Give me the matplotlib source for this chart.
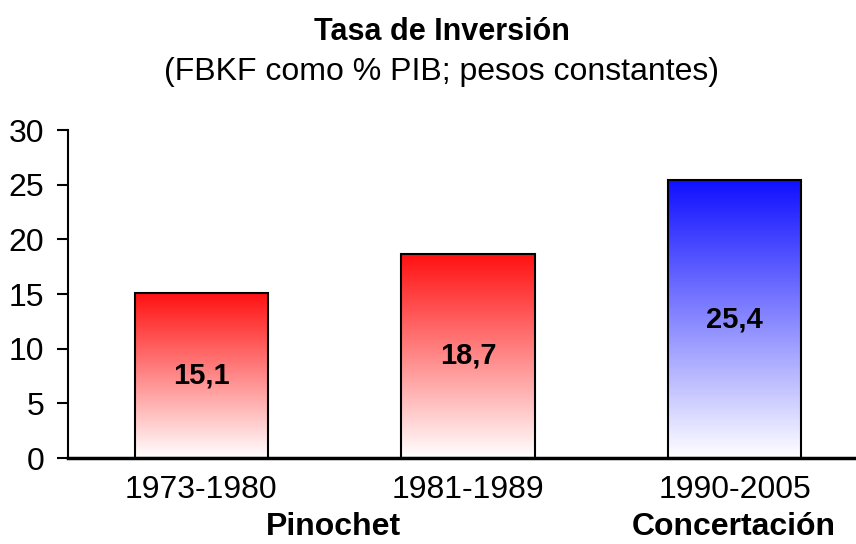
import numpy as np
import matplotlib
matplotlib.use("Agg")
import matplotlib.pyplot as plt
from matplotlib.colors import LinearSegmentedColormap

plt.rcParams['font.family'] = ['Liberation Sans', 'DejaVu Sans']

periods = ['1973-1980', '1981-1989', '1990-2005']
values = [15.1, 18.7, 25.4]
labels = ['15,1', '18,7', '25,4']
top_colors = ['#ff1010', '#ff1010', '#1010ff']
groups = ['Pinochet', 'Concertación']

fig = plt.figure(figsize=(8.56, 5.44), dpi=100)
ax = fig.add_axes([68 / 856, 86 / 544, 1 - 68 / 856, 328 / 544])

x = np.arange(len(values))
width = 0.5
grad = np.linspace(0, 1, 256).reshape(-1, 1)

for xi, v, c, lab in zip(x, values, top_colors, labels):
    cmap = LinearSegmentedColormap.from_list('g', ['white', c])
    ax.imshow(grad, cmap=cmap, aspect='auto', origin='lower',
              extent=[xi - width / 2, xi + width / 2, 0, v], zorder=1)
    ax.bar(xi, v, width=width, facecolor='none', edgecolor='black', linewidth=1.5, zorder=2)
    ax.text(xi, v / 2, lab, ha='center', va='center', fontsize=21, fontweight='bold', zorder=3)

ax.set_xlim(-0.5, 2.455)
ax.set_ylim(0, 30)
ax.set_yticks(range(0, 31, 5))
ax.set_xticks(x)
ax.set_xticklabels(periods, fontsize=23)
ax.tick_params(axis='y', labelsize=23, length=8, width=1.5, pad=9)
ax.tick_params(axis='x', length=0, pad=12)
for s in ['top', 'right']:
    ax.spines[s].set_visible(False)
ax.spines['left'].set_linewidth(1.5)
ax.spines['bottom'].set_linewidth(2.5)

# group names under the periods
fig.text(333 / 856, 17 / 544, groups[0], ha='center', va='center', fontsize=23, fontweight='bold')
fig.text(734 / 856, 17 / 544, groups[1], ha='center', va='center', fontsize=23, fontweight='bold')

fig.text(442 / 856, 1 - 32 / 544, 'Tasa de Inversión', ha='center', va='center',
         fontsize=22, fontweight='bold')
fig.text(442 / 856, 1 - 72 / 544, '(FBKF como % PIB; pesos constantes)', ha='center',
         va='center', fontsize=23)

fig.savefig('out.png', dpi=100)
